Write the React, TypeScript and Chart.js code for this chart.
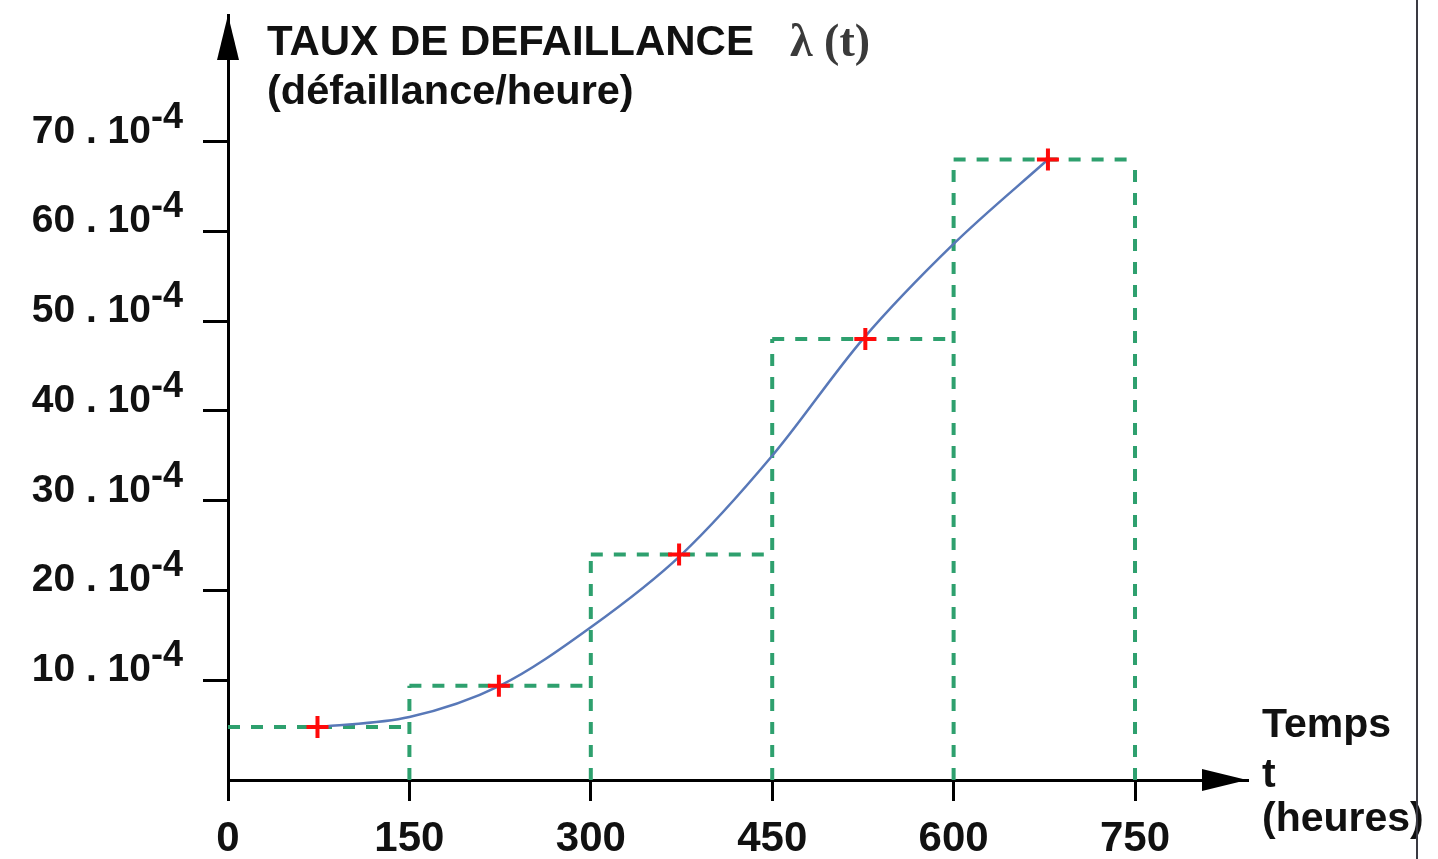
import React, { useEffect, useRef } from "react";
import { Chart, registerables } from "chart.js";

Chart.register(...registerables);

// ---- data ----
const binEdges = [0, 150, 300, 450, 600, 750];
const binRates = [4.8, 9.4, 24, 48, 68];
const crossTimes = [74, 224, 373, 527, 678];
const crossRates = [4.8, 9.4, 24, 48, 68];
const curveTimes = [75, 150, 225, 300, 375, 450, 525, 600, 678];
const curveRates = [4.8, 5.9, 9.4, 15.9, 24, 35, 48, 58.6, 68];
const xTickValues = [0, 150, 300, 450, 600, 750];
const yTickValues = [10, 20, 30, 40, 50, 60, 70];
const yTickSuffix = " . 10";
const yTickExponent = "-4";
const titleLine1 = "TAUX DE DEFAILLANCE";
const titleSymbol = "λ (t)";
const titleLine2 = "(défaillance/heure)";
const xTitleLines = ["Temps", "t", "(heures)"];

const X_MIN = 0;
const X_MAX = 842.6;
const Y_MIN = -1.11;
const Y_MAX = 84.1;

const SANS = '"Liberation Sans", Arial, Helvetica, sans-serif';
const SERIF = '"Liberation Serif", "Times New Roman", serif';

function buildBarOutline() {
  const pts: { x: number; y: number | null }[] = [];
  for (let i = 0; i < binRates.length; i++) {
    pts.push({ x: binEdges[i], y: binRates[i] });
    pts.push({ x: binEdges[i + 1], y: binRates[i] });
    pts.push({ x: binEdges[i + 1], y: null });
  }
  for (let i = 1; i < binEdges.length; i++) {
    const left = binRates[i - 1];
    const right = i < binRates.length ? binRates[i] : left;
    pts.push({ x: binEdges[i], y: Y_MIN });
    pts.push({ x: binEdges[i], y: Math.max(left, right) });
    pts.push({ x: binEdges[i], y: null });
  }
  return pts;
}

const decorPlugin = {
  id: "decor",
  beforeDraw(chart: any) {
    const { ctx, width, height } = chart;
    ctx.save();
    ctx.fillStyle = "#ffffff";
    ctx.fillRect(0, 0, width, height);
    ctx.restore();
  },
  afterDraw(chart: any) {
    const { ctx, chartArea: a, scales } = chart;
    const ys = scales.y;
    ctx.save();
    ctx.fillStyle = "#000";
    ctx.beginPath();
    ctx.moveTo(a.left, a.top);
    ctx.lineTo(a.left - 11, a.top + 45);
    ctx.lineTo(a.left + 11, a.top + 45);
    ctx.closePath();
    ctx.fill();
    ctx.beginPath();
    ctx.moveTo(a.right, a.bottom);
    ctx.lineTo(a.right - 45, a.bottom - 11);
    ctx.lineTo(a.right - 45, a.bottom + 11);
    ctx.closePath();
    ctx.fill();

    ctx.fillStyle = "#111";
    ctx.textBaseline = "alphabetic";
    const labelRight = a.left - 77;
    for (const v of yTickValues) {
      const py = ys.getPixelForValue(v);
      ctx.font = `bold 39px ${SANS}`;
      ctx.textAlign = "right";
      ctx.fillText(`${v}${yTickSuffix}`, labelRight, py + 1);
      ctx.font = `bold 36px ${SANS}`;
      ctx.textAlign = "left";
      ctx.fillText(yTickExponent, labelRight, py - 14);
    }

    ctx.textAlign = "left";
    ctx.fillStyle = "#111";
    ctx.font = `bold 42px ${SANS}`;
    ctx.fillText(titleLine1, a.left + 39, 55);
    ctx.font = `bold 41.5px ${SANS}`;
    ctx.fillText(titleLine2, a.left + 39, 104);
    ctx.fillStyle = "#3a3a3a";
    ctx.font = `bold 46px ${SERIF}`;
    ctx.fillText(titleSymbol, a.left + 562, 56);

    ctx.fillStyle = "#111";
    ctx.font = `bold 41px ${SANS}`;
    const tx = a.right + 15;
    ctx.fillText(xTitleLines[0], tx, 737);
    ctx.fillText(xTitleLines[1], tx, 787);
    ctx.fillText(xTitleLines[2], tx, 831);

    ctx.fillStyle = "#3a3a42";
    ctx.fillRect(1416, 0, 2, chart.height);
    ctx.restore();
  },
};

export default function App() {
  const ref = useRef<HTMLCanvasElement | null>(null);

  useEffect(() => {
    if (!ref.current) return;
    const green = "#2ea06e";
    const chart = new Chart(ref.current, {
      type: "line",
      data: {
        datasets: [
          {
            label: "bars",
            data: buildBarOutline(),
            borderColor: green,
            borderWidth: 4,
            borderDash: [12, 11],
            pointRadius: 0,
            spanGaps: false,
            fill: false,
            order: 3,
          } as any,
          {
            label: "lambda",
            data: curveTimes.map((t, i) => ({ x: t, y: curveRates[i] })),
            borderColor: "#5878b8",
            borderWidth: 2.5,
            cubicInterpolationMode: "monotone",
            pointRadius: 0,
            fill: false,
            order: 2,
          } as any,
          {
            label: "points",
            data: crossTimes.map((t, i) => ({ x: t, y: crossRates[i] })),
            showLine: false,
            pointStyle: "cross",
            pointRadius: 11,
            pointBorderWidth: 4,
            pointBorderColor: "#ff0a0a",
            borderColor: "#ff0a0a",
            order: 1,
          } as any,
        ],
      },
      options: {
        animation: false,
        responsive: false,
        devicePixelRatio: 1,
        layout: { padding: { left: 0, top: 13, right: 191, bottom: 0 } },
        plugins: { legend: { display: false }, tooltip: { enabled: false } },
        scales: {
          x: {
            type: "linear",
            min: X_MIN,
            max: X_MAX,
            afterBuildTicks: (s: any) => {
              s.ticks = xTickValues.map((v) => ({ value: v }));
            },
            afterFit: (s: any) => {
              s.height = 79;
            },
            grid: {
              display: true,
              drawOnChartArea: false,
              drawTicks: true,
              tickLength: 21,
              color: "#000",
              lineWidth: 3,
            },
            border: { display: true, color: "#000", width: 3 },
            ticks: {
              color: "#111",
              padding: 13,
              maxRotation: 0,
              autoSkip: false,
              font: { family: SANS, size: 42, weight: "bold" },
              callback: (v: any) => String(v),
            },
          },
          y: {
            type: "linear",
            min: Y_MIN,
            max: Y_MAX,
            afterBuildTicks: (s: any) => {
              s.ticks = yTickValues.map((v) => ({ value: v }));
            },
            afterFit: (s: any) => {
              s.width = 228;
            },
            grid: {
              display: true,
              drawOnChartArea: false,
              drawTicks: true,
              tickLength: 25,
              color: "#000",
              lineWidth: 3,
            },
            border: { display: true, color: "#000", width: 3 },
            ticks: { display: false },
          },
        },
      },
      plugins: [decorPlugin],
    } as any);
    return () => chart.destroy();
  }, []);

  return (
    <div style={{ position: "fixed", left: 0, top: 0, width: 1438, height: 859, background: "#fff" }}>
      <canvas ref={ref} width={1438} height={859} style={{ display: "block" }} />
    </div>
  );
}
